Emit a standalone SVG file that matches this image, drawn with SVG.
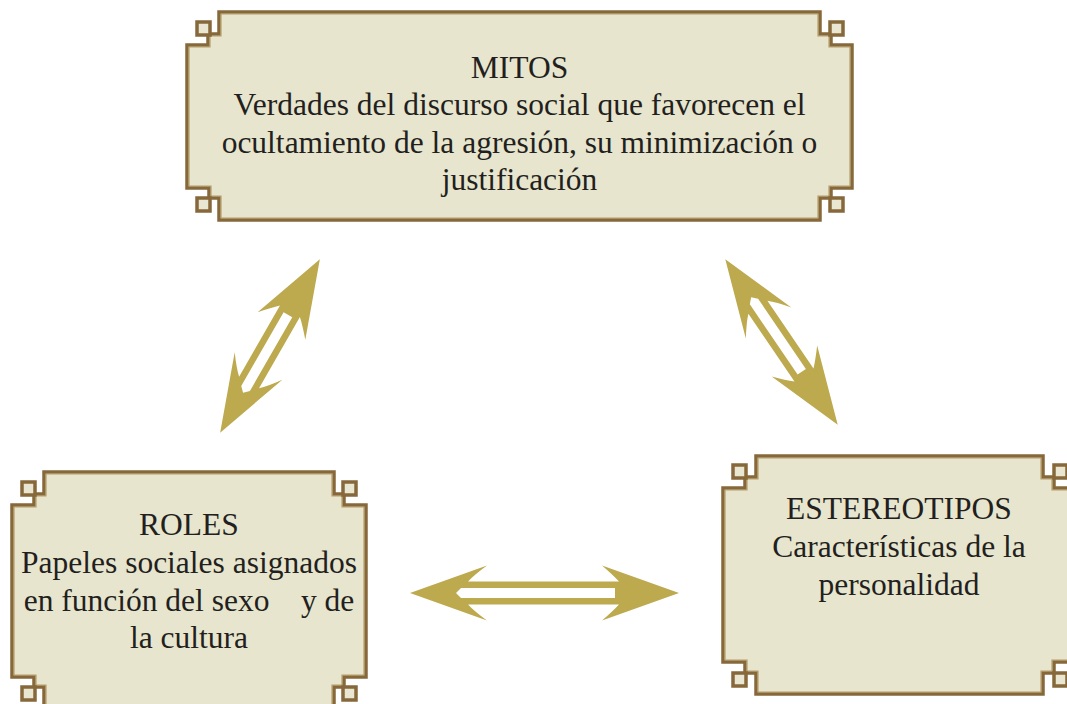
<svg xmlns="http://www.w3.org/2000/svg" width="1067" height="704" viewBox="0 0 1067 704">
<defs>
<style>
.frame{fill:#e7e5cd;stroke:#86683a;stroke-width:3.5;stroke-linejoin:miter}
.inner{fill:none;stroke:#b59d6c;stroke-width:1.2}
.sq{fill:#e9e6d2;stroke:#86683a;stroke-width:3.5}
.arrow{fill:#bda94e;fill-rule:evenodd}
text{font-family:"Liberation Serif","Times New Roman",serif;font-size:31.5px;fill:#231f20;text-anchor:middle;white-space:pre}
</style>
<path id="arr200" d="M -100,0 L -23,-27.5 Q -36,-18 -42,-11.5 L 40,-11.5 Q 34,-18 23,-27.5 L 100,0 L 23,27.5 Q 34,18 40,11.5 L -42,11.5 Q -36,18 -23,27.5 Z M -54,0 L -49,-5 L 36,-5 L 36,5 L -49,5 Z"/>
</defs>
<rect width="1067" height="704" fill="#ffffff"/>

<g id="connectors">
<use href="#arr200" class="arrow" transform="translate(270,346) rotate(-60.1)"/>
<use href="#arr200" class="arrow" transform="translate(781.5,342) rotate(55.8)"/>
<path class="arrow" transform="translate(544.5,593)" d="M -134.5,0 L -57.5,-27.5 Q -70.5,-18 -76.5,-11.5 L 74.5,-11.5 Q 68.5,-18 57.5,-27.5 L 134.5,0 L 57.5,27.5 Q 68.5,18 74.5,11.5 L -76.5,11.5 Q -70.5,18 -57.5,27.5 Z M -88.5,0 L -83.5,-5 L 70.5,-5 L 70.5,5 L -83.5,5 Z"/>
</g>

<g id="mitos">
<path class="frame" d="M 219,12 H 820 V 34 H 831 V 45 H 852 V 188 H 831 V 198 H 820 V 220 H 219 V 198 H 209 V 188 H 187 V 45 H 208 V 34 H 219 Z"/>
<path class="inner" d="M 221,14 H 818 V 36 H 829 V 47 H 850 V 186 H 829 V 196 H 818 V 218 H 221 V 196 H 211 V 186 H 189 V 47 H 210 V 36 H 221 Z"/>
<rect class="sq" x="197" y="22" width="13" height="13"/>
<rect class="sq" x="830" y="22" width="13" height="13"/>
<rect class="sq" x="197" y="198" width="13" height="13"/>
<rect class="sq" x="830" y="198" width="13" height="13"/>
<text x="519.5" y="78">MITOS</text>
<text x="519.5" y="115">Verdades del discurso social que favorecen el</text>
<text x="519.5" y="153">ocultamiento de la agresión, su minimización o</text>
<text x="519.5" y="190">justificación</text>
</g>

<g id="roles">
<path class="frame" d="M 44,472 H 334 V 494 H 344 V 505 H 366 V 677 H 344 V 687 H 334 V 712 H 44 V 687 H 34 V 677 H 12 V 505 H 34 V 494 H 44 Z"/>
<path class="inner" d="M 46,474 H 332 V 496 H 342 V 507 H 364 V 675 H 342 V 685 H 332 V 712 H 46 V 685 H 36 V 675 H 14 V 507 H 36 V 496 H 46 Z"/>
<rect class="sq" x="22" y="482" width="13" height="13"/>
<rect class="sq" x="343" y="482" width="13" height="13"/>
<rect class="sq" x="22" y="687" width="13" height="13"/>
<rect class="sq" x="343" y="687" width="13" height="13"/>
<text x="189" y="535">ROLES</text>
<text x="189" y="573">Papeles sociales asignados</text>
<text x="189" y="611">en función del sexo    y de</text>
<text x="189" y="648">la cultura</text>
</g>

<g id="estereotipos">
<path class="frame" d="M 756,456 H 1043 V 477 H 1054 V 488 H 1076 V 662 H 1054 V 673 H 1043 V 694 H 756 V 673 H 745 V 662 H 723 V 488 H 745 V 477 H 756 Z"/>
<path class="inner" d="M 758,458 H 1041 V 479 H 1052 V 490 H 1076 V 660 H 1052 V 671 H 1041 V 692 H 758 V 671 H 747 V 660 H 725 V 490 H 747 V 479 H 758 Z"/>
<rect class="sq" x="733" y="465" width="13" height="13"/>
<rect class="sq" x="1054" y="465" width="13" height="13"/>
<rect class="sq" x="733" y="673" width="13" height="13"/>
<rect class="sq" x="1054" y="673" width="13" height="13"/>
<text x="899" y="519">ESTEREOTIPOS</text>
<text x="899" y="557">Características de la</text>
<text x="899" y="595">personalidad</text>
</g>
</svg>
